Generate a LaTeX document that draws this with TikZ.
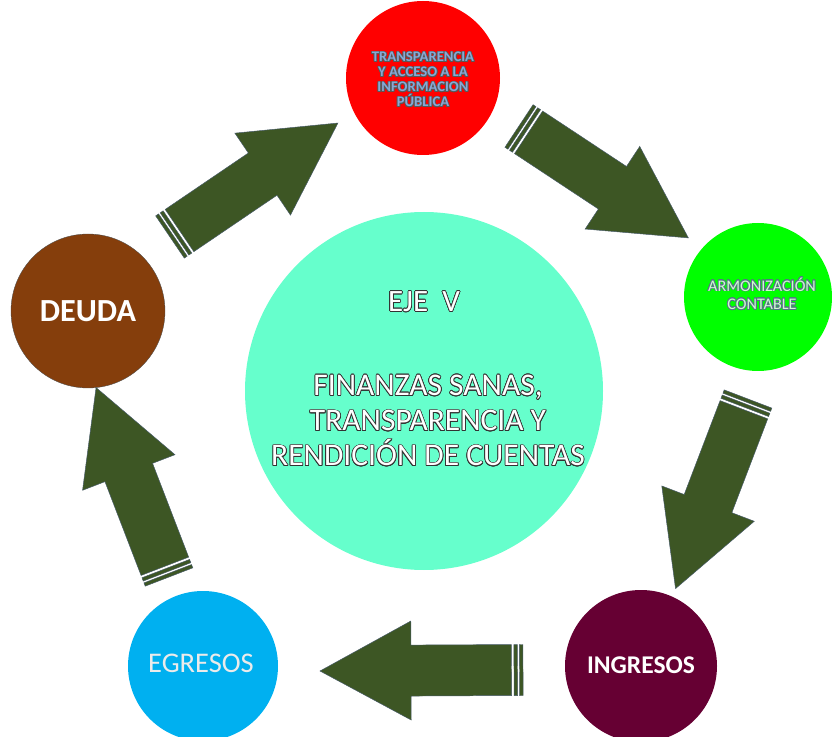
\documentclass[tikz,border=0pt]{standalone}
\usepackage{fontspec}
\setmainfont{Carlito}
\usepackage{contour}
\contourlength{0.6pt}
\usetikzlibrary{calc}
\definecolor{verdeflecha}{RGB}{61,86,36}
\definecolor{bordeflecha}{RGB}{70,90,105}
\definecolor{rojo}{RGB}{255,0,0}
\definecolor{verde}{RGB}{0,255,0}
\definecolor{guinda}{RGB}{102,0,51}
\definecolor{azul}{RGB}{0,176,240}
\definecolor{cafe}{RGB}{133,62,12}
\definecolor{aqua}{RGB}{102,255,204}
\definecolor{azulgris}{RGB}{135,168,215}
\definecolor{pizarra}{RGB}{90,110,140}
\definecolor{grisosc}{RGB}{50,50,50}
\tikzset{
  circulo/.style={circle, inner sep=0pt},
  flecha/.style={fill=verdeflecha, draw=bordeflecha, line width=0.4pt}
}
\newcommand{\hueco}[1]{\contour{grisosc}{\textcolor{white}{#1}}}
\newcommand{\flechaRayada}[2]{%
  \pgfmathanglebetweenpoints{\pgfpointanchor{#1}{center}}{\pgfpointanchor{#2}{center}}%
  \let\angflecha\pgfmathresult
  \begin{scope}[shift={(#1)}, rotate=\angflecha]
    \path[flecha] (0,-25.5) rectangle (3.5,25.5);
    \path[flecha] (5.5,-25.5) rectangle (9,25.5);
    \path[flecha] (11.5,-25.5) -- (112,-25.5) -- (112,-49.5) -- (203,0) -- (112,49.5) -- (112,25.5) -- (11.5,25.5) -- cycle;
  \end{scope}}

\begin{document}
\begin{tikzpicture}[x=0.03cm, y=-0.03cm]
  \useasboundingbox (0,0) rectangle (832,737);
  % circulos
  \node[circulo, fill=aqua, minimum size=358*0.03cm] (eje) at (424,391) {};
  \node[circulo, fill=rojo, minimum size=154*0.03cm] (trans) at (423,78) {};
  \node[circulo, fill=verde, minimum size=148*0.03cm] (armon) at (758,297) {};
  \node[circulo, fill=guinda, minimum size=152*0.03cm] (ingresos) at (641,666) {};
  \node[circulo, fill=azul, minimum size=150*0.03cm] (egresos) at (203,666) {};
  \node[circulo, fill=cafe, minimum size=154*0.03cm, draw=gray!60!black, line width=0.3pt] (deuda) at (88,311) {};
  % textos
  \node[font=\bfseries\fontsize{12.5}{12.8}\selectfont, align=center, text=azulgris] (ttrans) at (423,80)
    {\contour{gray!70!black}{TRANSPARENCIA}\\\contour{gray!70!black}{Y ACCESO A LA}\\\contour{gray!70!black}{INFORMACION}\\\contour{gray!70!black}{PÚBLICA}};
  \node[font=\fontsize{13.8}{15.5}\selectfont, align=center] (tarmon) at (762,294)
    {\contour{pizarra}{\textcolor{green!20!white}{ARMONIZACIÓN}}\\\contour{pizarra}{\textcolor{green!20!white}{CONTABLE}}};
  \node[font=\bfseries\fontsize{27.5}{30}\selectfont, text=white] (tdeuda) at (88,311) {DEUDA};
  \node[font=\fontsize{24.3}{28}\selectfont, text=white!92!black] (tegresos) at (201,663) {EGRESOS};
  \node[font=\bfseries\fontsize{21.8}{26}\selectfont, text=white] (tingresos) at (641,665) {INGRESOS};
  \node[font=\fontsize{26.5}{30}\selectfont] (teje) at (424,302) {\hueco{EJE\ \ V}};
  \node[font=\fontsize{26.9}{30}\selectfont, align=center] (ttitulo) at (428,421)
    {\hueco{FINANZAS SANAS,}\\\hueco{TRANSPARENCIA Y}\\\hueco{RENDICIÓN DE CUENTAS}};
  % flechas
  \coordinate (c1) at (170,237); \coordinate (p1) at (338,123);
  \coordinate (c2) at (519,126); \coordinate (p2) at (690,239);
  \coordinate (c3) at (748,399); \coordinate (p3) at (675,590);
  \coordinate (c4) at (523,670); \coordinate (p4) at (322,671);
  \coordinate (c5) at (169,577); \coordinate (p5) at (97,390);
  \flechaRayada{c1}{p1}
  \flechaRayada{c2}{p2}
  \flechaRayada{c3}{p3}
  \flechaRayada{c4}{p4}
  \flechaRayada{c5}{p5}
\end{tikzpicture}
\end{document}
